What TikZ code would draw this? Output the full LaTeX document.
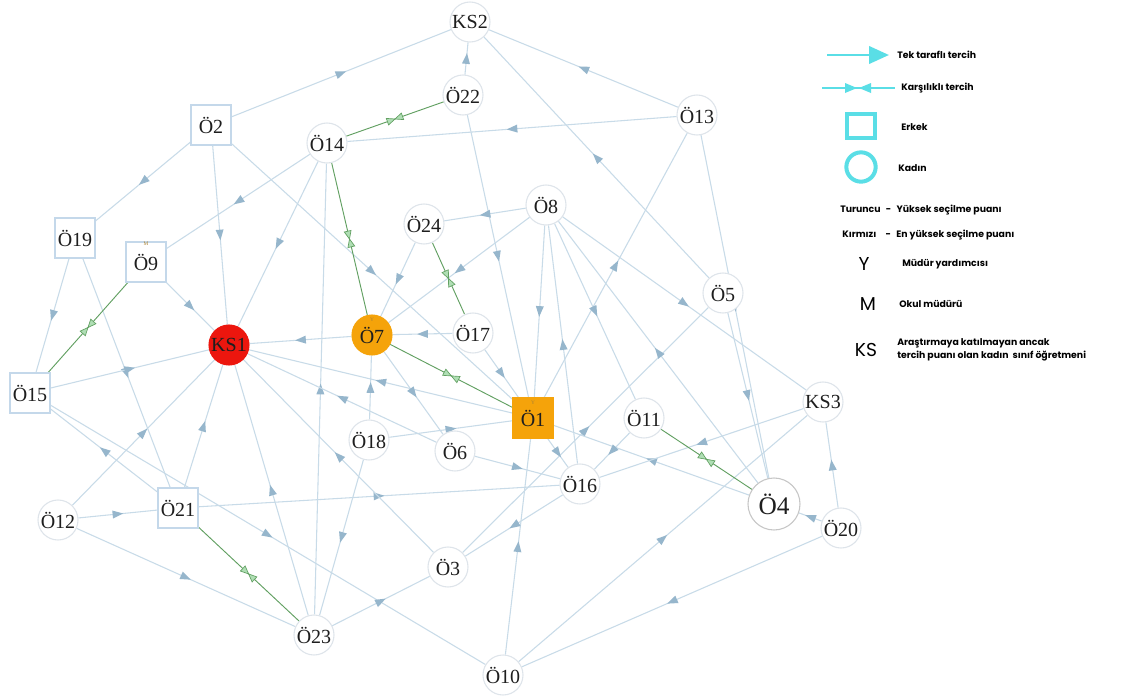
\documentclass[tikz,border=0pt]{standalone}
\usepackage{fontspec}
\setmainfont{Liberation Serif}
\newfontfamily\legfont{Poppins}
\usetikzlibrary{decorations.markings,arrows.meta,backgrounds,calc}
\definecolor{edgecol}{RGB}{200,219,232}
\definecolor{markcol}{RGB}{150,182,204}
\definecolor{grncol}{RGB}{98,160,98}
\definecolor{grnfill}{RGB}{175,222,180}
\definecolor{circbd}{RGB}{222,228,234}
\definecolor{sqbd}{RGB}{196,216,234}
\definecolor{ksred}{RGB}{236,22,14}
\definecolor{orng}{RGB}{245,163,10}
\definecolor{cyanleg}{RGB}{90,222,230}
\definecolor{txtcol}{RGB}{30,30,30}
\definecolor{tagcol}{RGB}{170,130,50}
\begin{document}
\begin{tikzpicture}[x=0.75pt,y=-0.75pt,
  cnode/.style={circle, draw=circbd, line width=0.8pt, fill=white, minimum size=30pt, inner sep=0pt, font=\fontsize{15}{17}\selectfont, text=txtcol},
  snode/.style={rectangle, draw=sqbd, line width=0.8pt, fill=white, minimum size=30pt, inner sep=0pt, font=\fontsize{15}{17}\selectfont, text=txtcol},
  pref/.style={draw=edgecol, line width=0.8pt, postaction={decorate}, decoration={markings, mark=at position 0.5 with {\fill[markcol] (4pt,0) -- (-4pt,3pt) -- (-4pt,-3pt) -- cycle;}}},
  mut/.style={draw=grncol, line width=0.7pt, postaction={decorate}, decoration={markings, mark=at position 0.5 with {\draw[grncol, fill=grnfill, line width=0.5pt] (0,0) -- (-6pt,2.6pt) -- (-6pt,-2.6pt) -- cycle; \draw[grncol, fill=grnfill, line width=0.5pt] (0,0) -- (6pt,2.6pt) -- (6pt,-2.6pt) -- cycle;}}},
  legtxt/.style={font=\legfont\bfseries\fontsize{7}{8.5}\selectfont, anchor=west, inner sep=0pt, text=black},
  legbig/.style={font=\legfont\fontsize{14}{16}\selectfont, inner sep=0pt, text=black},
  tag/.style={font=\fontsize{4}{4}\selectfont, text=tagcol, inner sep=0pt}
]
\useasboundingbox (0,0) rectangle (1125,697);

% nodes
\node[cnode] (ks2) at (470,22) {KS2};
\node[cnode] (o22) at (463,95) {Ö22};
\node[cnode] (o13) at (697,115) {Ö13};
\node[snode] (o2) at (211,125) {Ö2};
\node[cnode] (o14) at (327,143) {Ö14};
\node[cnode] (o8) at (546,205) {Ö8};
\node[cnode] (o24) at (424,224) {Ö24};
\node[snode] (o19) at (75,238) {Ö19};
\node[snode] (o9) at (146,262) {Ö9};
\node[cnode] (o5) at (723,293) {Ö5};
\node[cnode] (o17) at (473,333) {Ö17};
\node[cnode, fill=ksred, draw=ksred] (ks1) at (229,345) {KS1};
\node[cnode, fill=orng, draw=orng] (o7) at (372,335) {Ö7};
\node[snode] (o15) at (30,393) {Ö15};
\node[cnode] (ks3) at (823,402) {KS3};
\node[snode, fill=orng, draw=orng] (o1) at (533,418) {Ö1};
\node[cnode] (o11) at (644,418) {Ö11};
\node[cnode] (o18) at (369,440) {Ö18};
\node[cnode] (o6) at (455,451) {Ö6};
\node[cnode] (o16) at (580,484) {Ö16};
\node[cnode, minimum size=39pt, draw=gray!45, font=\fontsize{19}{21}\selectfont] (o4) at (774,504) {Ö4};
\node[cnode] (o20) at (841,528) {Ö20};
\node[cnode] (o12) at (58,520) {Ö12};
\node[snode] (o21) at (178,508) {Ö21};
\node[cnode] (o3) at (448,567) {Ö3};
\node[cnode] (o23) at (314,635) {Ö23};
\node[cnode] (o10) at (503,675) {Ö10};

\node[tag] (tm) at (146,244) {M};
\node[tag] (ty1) at (533,403) {Y};
\node[tag] (ty7) at (372,320) {Y};

\begin{scope}[on background layer]
\fill[white] (0,0) rectangle (1125,697);
\draw[pref] (o2) -- (ks2);
\draw[pref] (o22) -- (ks2);
\draw[pref] (o13) -- (ks2);
\draw[pref] (o5) -- (ks2);
\draw[pref] (o13) -- (o14);
\draw[pref] (o1) -- (o13);
\draw[pref] (o13) -- (o4);
\draw[pref] (o5) -- (o4);
\draw[pref] (o3) -- (o5);
\draw[pref] (o22) -- (o1);
\draw[pref] (o8) -- (o24);
\draw[pref] (o8) -- (o7);
\draw[pref] (o8) -- (o1);
\draw[pref] (o16) -- (o8);
\draw[pref] (o8) -- (o11);
\draw[pref] (o4) -- (o8);
\draw[pref] (o8) -- (ks3);
\draw[pref] (o24) -- (o7);
\draw[pref] (o2) -- (o1);
\draw[pref] (o2) -- (o19);
\draw[pref] (o2) -- (ks1);
\draw[pref] (o14) -- (o9);
\draw[pref] (o14) -- (ks1);
\draw[pref] (o23) -- (o14);
\draw[pref] (o19) -- (o15);
\draw[pref] (o19) -- (o21);
\draw[pref] (o9) -- (ks1);
\draw[pref] (o15) -- (ks1);
\draw[pref] (o15) -- (o10);
\draw[pref] (o21) -- (o15);
\draw[pref] (o12) -- (o21);
\draw[pref] (o12) -- (o23);
\draw[pref] (o12) -- (ks1);
\draw[pref] (o21) -- (ks1);
\draw[pref] (o21) -- (o16);
\draw[pref] (o7) -- (ks1);
\draw[pref] (o1) -- (ks1);
\draw[pref] (o6) -- (ks1);
\draw[pref] (o3) -- (ks1);
\draw[pref] (o23) -- (ks1);
\draw[pref] (o17) -- (o7);
\draw[pref] (o18) -- (o7);
\draw[pref] (o7) -- (o6);
\draw[pref] (o18) -- (o23);
\draw[pref] (o17) -- (o1);
\draw[pref] (o18) -- (o1);
\draw[pref] (o1) -- (o16);
\draw[pref] (o10) -- (o1);
\draw[pref] (o4) -- (o1);
\draw[pref] (o16) -- (o3);
\draw[pref] (o6) -- (o16);
\draw[pref] (o11) -- (o16);
\draw[pref] (ks3) -- (o16);
\draw[pref] (o10) -- (ks3);
\draw[pref] (o20) -- (o10);
\draw[pref] (o20) -- (o4);
\draw[pref] (o20) -- (ks3);
\draw[pref] (o23) -- (o3);
\draw[mut] (o14) -- (o22);
\draw[mut] (o14) -- (o7);
\draw[mut] (o24) -- (o17);
\draw[mut] (o7) -- (o1);
\draw[mut] (o9) -- (o15);
\draw[mut] (o21) -- (o23);
\draw[mut] (o11) -- (o4);
\end{scope}

% legend
\coordinate (la1) at (827,55);
\coordinate (la2) at (889,55);
\draw[cyanleg, line width=2.2pt, -{Triangle[length=15pt,width=13pt]}] (la1) -- (la2);
\node[legtxt] (lt1) at (897,55) {Tek taraflı tercih};
\coordinate (lb1) at (822,88);
\coordinate (lb2) at (895,88);
\coordinate (lbm) at (858,88);
\draw[cyanleg, line width=1.1pt] (lb1) -- (lb2);
\fill[cyanleg] ($(lbm)+(-1,0)$) -- ++(-12,-5) -- ++(0,10) -- cycle;
\fill[cyanleg] ($(lbm)+(1,0)$) -- ++(12,-5) -- ++(0,10) -- cycle;
\node[legtxt] (lt2) at (901,88) {Karşılıklı tercih};
\node[draw=cyanleg, line width=3pt, minimum width=21pt, minimum height=18pt, inner sep=0pt] (lsq) at (861,126) {};
\node[legtxt] (lt3) at (901,127) {Erkek};
\node[draw=cyanleg, line width=3pt, circle, minimum size=22pt, inner sep=0pt] (lci) at (861,167) {};
\node[legtxt] (lt4) at (898,168) {Kadın};
\node[legtxt] (lt5) at (840,210) {Turuncu\hspace{4pt}-\hspace{4pt}Yüksek seçilme puanı};
\node[legtxt] (lt6) at (842,235) {Kırmızı\hspace{7pt}-\hspace{4pt}En yüksek seçilme puanı};
\node[legbig] (ly) at (864,264) {Y};
\node[legtxt] (lt7) at (902,264) {Müdür yardımcısı};
\node[legbig] (lm) at (868,304) {M};
\node[legtxt] (lt8) at (899,304) {Okul müdürü};
\node[legbig] (lks) at (866,350) {KS};
\node[legtxt, align=left] (lt9) at (897,350) {Araştırmaya katılmayan ancak\\[1pt]tercih puanı olan kadın\ \ sınıf öğretmeni};
\end{tikzpicture}
\end{document}
